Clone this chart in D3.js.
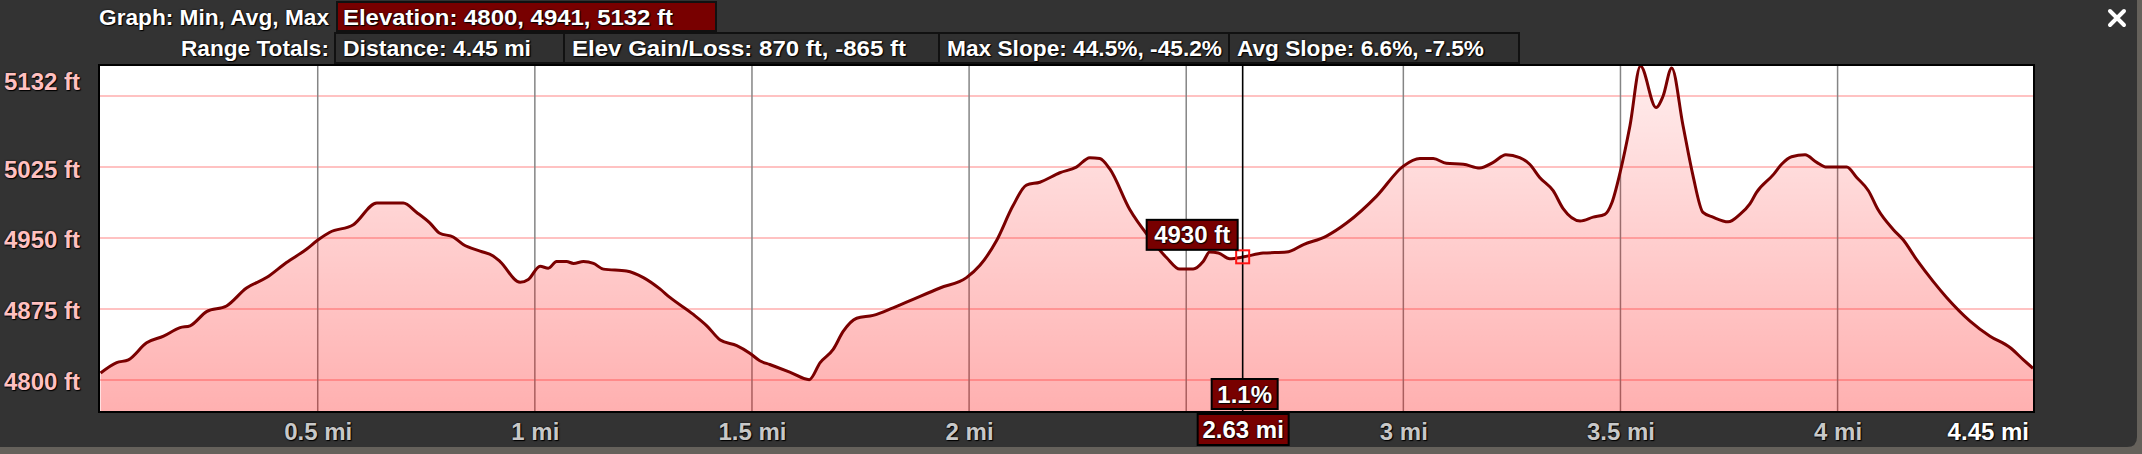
<!DOCTYPE html>
<html><head><meta charset="utf-8">
<script src="https://cdn.jsdelivr.net/npm/d3@7"></script>
<style>
html,body{margin:0;padding:0;background:#65615b;overflow:hidden;}
svg{display:block;}
text{font-family:"Liberation Sans",Arial,Helvetica,sans-serif;font-weight:bold;}
.sh{text-shadow:1px 1px 1px #000,0 0 2px #000;}
</style></head><body>
<svg id="c" width="2142" height="454"></svg>
<script>
// ---------- data ----------
const distanceMi = [0,0.037,0.064,0.106,0.145,0.183,0.206,0.244,0.290,0.336,0.382,0.428,0.474,0.501,0.528,0.582,0.636,0.697,0.728,
0.758,0.781,0.812,0.835,0.874,0.904,0.920,0.966,0.985,1.012,1.031,1.050,1.073,1.089,1.112,1.135,1.158,1.211,1.250,1.288,1.311,1.365,1.396,1.427,1.465,1.495,
1.518,1.541,1.587,1.632,1.657,1.687,1.710,1.741,1.779,1.825,1.871,1.933,1.994,2.025,2.063,2.101,2.132,2.163,2.209,2.247,
2.278,2.301,2.324,2.370,2.416,2.455,2.485,2.516,2.539,2.554,2.574,2.600,2.633,2.677,2.731,2.770,2.823,2.870,2.938,3.000,
3.038,3.069,3.099,3.138,3.176,3.207,3.236,3.268,3.291,3.314,3.345,3.368,3.407,3.437,3.464,3.480,3.499,3.522,3.546,3.582,3.598,3.618,3.644,3.667,3.690,3.713,3.748,3.775,
3.798,3.813,3.852,3.871,3.894,3.925,3.952,3.975,4.021,4.044,4.071,4.093,4.128,4.151,4.182,4.220,4.251,4.305,4.351,4.397,4.428,4.450];
const elevationFt = [4807,4818,4821,4839,4846,4855,4857,4872,4878,4897,4908,4924,4938,4948,4956,4964,4987,4987,4977,
4966,4955,4951,4943,4936,4931,4925,4903,4906,4920,4918,4925,4925,4923,4925,4923,4917,4915,4908,4896,4887,4869,4857,4842,4836,4828,
4820,4816,4808,4800,4818,4832,4851,4865,4868,4876,4885,4897,4908,4921,4947,4984,5006,5009,5019,5025,
5035,5034,5023,4980,4950,4929,4917,4917,4925,4935,4934,4928,4930,4934,4935,4943,4952,4966,4994,5026,
5034,5034,5029,5028,5024,5030,5038,5035,5028,5014,5000,4981,4968,4972,4975,4987,5019,5069,5132,5088,5100,5130,5069,5016,4977,4972,4967,4975,
4986,4998,5017,5028,5036,5038,5030,5025,5025,5014,5000,4980,4959,4948,4927,4904,4887,4862,4846,4834,4821,4812];

const xTickValues = [0.5,1,1.5,2,2.5,3,3.5,4];
const xTickLabels = ["0.5 mi","1 mi","1.5 mi","2 mi","","3 mi","3.5 mi","4 mi"];
const xEndLabel = "4.45 mi";
const totalDistance = 4.45;
const yGridValues = [4800,4875,4950,5025,5100];
const yTickValues = [4800,4875,4950,5025];
const yTickLabels = ["4800 ft","4875 ft","4950 ft","5025 ft"];
const elevMin = 4800, elevAvg = 4941, elevMax = 5132;
const maxLabel = "5132 ft";

const graphLabel = "Graph: Min, Avg, Max";
const elevationSummary = "Elevation: 4800, 4941, 5132 ft";
const rangeLabel = "Range Totals:";
const rangeTotals = ["Distance: 4.45 mi","Elev Gain/Loss: 870 ft, -865 ft","Max Slope: 44.5%, -45.2%","Avg Slope: 6.6%, -7.5%"];

const cursorDistance = 2.63;
const cursorElevation = 4930;
const cursorSlope = "1.1%";

// ---------- layout ----------
const plot = {left:100, right:2033, top:66, bottom:411};
const svg = d3.select("#c");

const pw = 2137, ph = 447, r = 10;
svg.append("path")
  .attr("d", `M0,0 H${pw} V${ph-r} Q${pw},${ph} ${pw-r},${ph} H0 Z`)
  .attr("fill", "#333333");

// header
const hdr = svg.append("g");
hdr.append("text").attr("class","sh").attr("x",329).attr("y",25).attr("text-anchor","end")
  .attr("font-size",22).attr("fill","#fff").attr("textLength",230).attr("lengthAdjust","spacingAndGlyphs").text(graphLabel);
hdr.append("rect").attr("x",337).attr("y",2).attr("width",379).attr("height",29)
  .attr("fill","#780000").attr("stroke","#111").attr("stroke-width",2);
hdr.append("text").attr("class","sh").attr("x",343).attr("y",25).attr("font-size",22).attr("fill","#fff")
  .attr("textLength",330).attr("lengthAdjust","spacingAndGlyphs").text(elevationSummary);

hdr.append("text").attr("class","sh").attr("x",329).attr("y",56).attr("text-anchor","end")
  .attr("font-size",22).attr("fill","#fff").attr("textLength",148).attr("lengthAdjust","spacingAndGlyphs").text(rangeLabel);
const boxEdges = [335,564,939,1229,1519];
const textLens = [188,334,275,247];
rangeTotals.forEach((t,i)=>{
  hdr.append("rect").attr("x",boxEdges[i]).attr("y",33).attr("width",boxEdges[i+1]-boxEdges[i]).attr("height",30)
    .attr("fill","#303030").attr("stroke","#111").attr("stroke-width",2);
  hdr.append("text").attr("class","sh").attr("x",boxEdges[i]+8).attr("y",56).attr("font-size",22).attr("fill","#fff")
    .attr("textLength",textLens[i]).attr("lengthAdjust","spacingAndGlyphs").text(t);
});

// close X
const cx = 2117, cy = 18, cs = 7;
svg.append("path").attr("d",`M${cx-cs},${cy-cs}L${cx+cs},${cy+cs}M${cx+cs},${cy-cs}L${cx-cs},${cy+cs}`)
  .attr("stroke","#fff").attr("stroke-width",4).attr("stroke-linecap","round");

// scales
const x = d3.scaleLinear().domain([0,totalDistance]).range([plot.left+0.6, plot.right]);
const yLow = elevMin - (elevMax-elevMin)*0.1;
const y = d3.scaleLinear().domain([yLow, elevMax]).range([plot.bottom, plot.top]);

svg.append("rect").attr("x",plot.left).attr("y",plot.top).attr("width",plot.right-plot.left).attr("height",plot.bottom-plot.top).attr("fill","#fff");

const defs = svg.append("defs");
const grad = defs.append("linearGradient").attr("id","fillGrad").attr("gradientUnits","userSpaceOnUse")
  .attr("x1",0).attr("y1",plot.top).attr("x2",0).attr("y2",plot.bottom);
grad.append("stop").attr("offset",0).attr("stop-color","#ff0000").attr("stop-opacity",0.07);
grad.append("stop").attr("offset",1).attr("stop-color","#ff0000").attr("stop-opacity",0.31);
defs.append("clipPath").attr("id","clip").append("rect")
  .attr("x",plot.left).attr("y",plot.top-2).attr("width",plot.right-plot.left).attr("height",plot.bottom-plot.top+2);

// grid
const grid = svg.append("g");
grid.selectAll("line.h").data(yGridValues).join("line").attr("class","h")
  .attr("x1",plot.left).attr("x2",plot.right).attr("y1",d=>Math.round(y(d))).attr("y2",d=>Math.round(y(d)))
  .attr("stroke","#ffc2c2").attr("stroke-width",2);
grid.selectAll("line.v").data(xTickValues).join("line").attr("class","v")
  .attr("y1",plot.top).attr("y2",plot.bottom).attr("x1",d=>x(d)).attr("x2",d=>x(d))
  .attr("stroke","#858585").attr("stroke-width",1.5);

// area + line
const pts = distanceMi.map((d,i)=>[d, elevationFt[i]]);
const area = d3.area().x(d=>x(d[0])).y0(plot.bottom).y1(d=>y(d[1])).curve(d3.curveMonotoneX);
const line = d3.line().x(d=>x(d[0])).y(d=>y(d[1])).curve(d3.curveMonotoneX);
const pg = svg.append("g").attr("clip-path","url(#clip)");
pg.append("path").datum(pts).attr("d",area).attr("fill","url(#fillGrad)");
pg.append("path").datum(pts).attr("d",line).attr("fill","none").attr("stroke","#7a0000").attr("stroke-width",3).attr("stroke-linejoin","round");

// plot border
svg.append("rect").attr("x",plot.left-1).attr("y",plot.top-1).attr("width",plot.right-plot.left+2).attr("height",plot.bottom-plot.top+2)
  .attr("fill","none").attr("stroke","#000").attr("stroke-width",2);

// y axis
const yAxis = svg.append("g").attr("transform",`translate(${plot.left},0)`)
  .call(d3.axisLeft(y).tickValues(yTickValues).tickSize(0).tickPadding(20).tickFormat((d,i)=>yTickLabels[i]));
yAxis.select(".domain").remove();
yAxis.selectAll("text").attr("class","sh").attr("dy",10).attr("font-size",24).attr("fill","#ffc0c0")
  .style("font-family",'"Liberation Sans",Arial,sans-serif').style("font-weight","bold");
svg.append("text").attr("class","sh").attr("x",plot.left-20).attr("y",y(elevMax)+24).attr("text-anchor","end")
  .attr("font-size",24).attr("fill","#ffc0c0").text(maxLabel);

// x axis
const xAxis = svg.append("g").attr("transform",`translate(0,${plot.bottom})`)
  .call(d3.axisBottom(x).tickValues(xTickValues).tickSize(0).tickPadding(12).tickFormat((d,i)=>xTickLabels[i]));
xAxis.select(".domain").remove();
xAxis.selectAll("text").attr("class","sh").attr("font-size",24).attr("fill","#c8c8c8")
  .style("font-family",'"Liberation Sans",Arial,sans-serif').style("font-weight","bold");
svg.append("text").attr("class","sh").attr("x",x(totalDistance)-4).attr("y",plot.bottom+29).attr("text-anchor","end")
  .attr("font-size",24).attr("fill","#fff").text(xEndLabel);

// cursor
const cx0 = x(cursorDistance), cy0 = y(cursorElevation);
svg.append("line").attr("x1",cx0).attr("x2",cx0).attr("y1",plot.top).attr("y2",plot.bottom+3)
  .attr("stroke","#000").attr("stroke-width",1.6);
svg.append("rect").attr("x",cx0-6.5).attr("y",cy0-6.5).attr("width",13).attr("height",13)
  .attr("fill","none").attr("stroke","#ff1414").attr("stroke-width",2);

function tag(x0, y0, w, h, label){
  svg.append("rect").attr("x",x0).attr("y",y0).attr("width",w).attr("height",h)
    .attr("fill","#780000").attr("stroke","#000").attr("stroke-width",2);
  svg.append("text").attr("class","sh").attr("x",x0+w/2).attr("y",y0+h/2+8.5).attr("text-anchor","middle")
    .attr("font-size",24).attr("fill","#fff").text(label);
}
tag(cx0-5-91, cy0-37, 91, 30, cursorElevation + " ft");
tag(cx0-31, plot.bottom-32, 66, 30, cursorSlope);
tag(cx0-45, plot.bottom+3, 91, 31, cursorDistance + " mi");
</script>
</body></html>
